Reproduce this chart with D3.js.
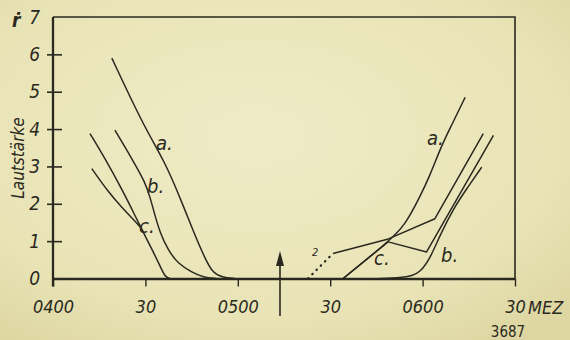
<!DOCTYPE html>
<html>
<head>
<meta charset="utf-8">
<script src="https://cdn.jsdelivr.net/npm/d3@7"></script>
<style>
  html, body { margin: 0; padding: 0; background: #ebe6ba; }
  svg { display: block; }
</style>
</head>
<body>
<svg id="chart" width="570" height="340"></svg>
<script>
// minutes after 04:00 MEZ, Lautstärke (0-7)
const xTicks = [0, 30, 60, 90, 120, 150];
const xTickLabels = ['0400', '30', '0500', '30', '0600', '30'];
const yTicks = [0, 1, 2, 3, 4, 5, 6, 7];

// fade-out (left group)
const aEarly = [[19.1, 5.9], [29.3, 4.1], [36.4, 3.12], [41.8, 2.05], [46.1, 1.15], [49.4, 0.53], [52, 0.13], [55.2, 0.03], [59, 0]];
const bEarly = [[20.1, 3.97], [25.6, 3.21], [29.9, 2.58], [31.5, 2.18], [33.1, 1.69], [34.7, 1.24], [37.4, 0.75], [40.7, 0.39], [45, 0.17], [48.8, 0.03], [53, 0]];
const cEarly = [[12, 3.88], [16.9, 3.21], [22.3, 2.4], [26.6, 1.69], [29.3, 1.24], [32, 0.8], [34.7, 0.35], [36.4, 0.03], [38, 0]];
const cEarlyBranch = [[12.6, 2.94], [18, 2.31], [22.3, 1.91], [25.6, 1.62], [28.5, 1.37], [29.3, 1.24]];

// return (right group)
const aLate = [[94.2, 0], [108.8, 0.98], [114.3, 1.42], [119.2, 2.2], [122.4, 2.76], [126.2, 3.57], [129.4, 4.1], [133.8, 4.85]];
const bLate = [[106, 0], [113, 0.02], [116.6, 0.07], [119.2, 0.17], [122.4, 0.53], [125.6, 1.15], [130, 1.87], [134.3, 2.4], [139.2, 2.98]];
const cLate = [[94.2, 0], [108.8, 0.98], [121.3, 0.71], [143, 3.83]];
const line2Dotted = [[82.8, 0], [90.9, 0.67]];
const line2 = [[90.9, 0.67], [108.9, 1.06], [124, 1.6], [139.7, 3.88]];

const INK = '#2a2920';
const NUM_FONT = '"Liberation Sans Narrow", "DejaVu Sans Condensed", "DejaVu Sans", sans-serif';

const svg = d3.select('#chart');

// paper
const grad = svg.append('defs').append('radialGradient')
  .attr('id', 'paper')
  .attr('cx', '45%').attr('cy', '40%').attr('r', '75%');
grad.append('stop').attr('offset', '0%').attr('stop-color', '#efebc6');
grad.append('stop').attr('offset', '70%').attr('stop-color', '#e9e4b6');
grad.append('stop').attr('offset', '100%').attr('stop-color', '#ddd6a2');
svg.append('rect')
  .attr('width', 570)
  .attr('height', 340)
  .attr('fill', 'url(#paper)');

const x = d3.scaleLinear().domain([0, 150]).range([53, 515]);
const y = d3.scaleLinear().domain([0, 7]).range([278.5, 17]);

// frame: top and right
svg.append('path')
  .attr('d', `M${x(0)},${y(7)}H${x(150)}V${y(0)}`)
  .attr('fill', 'none')
  .attr('stroke', INK)
  .attr('stroke-width', 1.6);

// y axis
const yAxisEl = svg.append('g')
  .attr('transform', `translate(${x(0)},0)`)
  .call(d3.axisLeft(y)
    .tickValues(yTicks)
    .tickFormat(d3.format('d'))
    .tickSize(6)
    .tickPadding(7)
    .tickSizeOuter(0));
yAxisEl.select('.domain').remove();
yAxisEl.selectAll('.tick line')
  .attr('x1', 9)
  .attr('stroke', INK)
  .attr('stroke-width', 1.6);
yAxisEl.selectAll('.tick').filter(d => d === 0 || d === 7).select('line').remove();
yAxisEl.selectAll('text')
  .style('font-family', NUM_FONT)
  .style('font-style', 'italic')
  .style('font-size', '19px')
  .attr('fill', INK);
svg.append('line')
  .attr('x1', x(0)).attr('x2', x(0))
  .attr('y1', y(7)).attr('y2', y(0) + 8)
  .attr('stroke', INK)
  .attr('stroke-width', 2.3);

// x axis
const xAxisEl = svg.append('g')
  .attr('transform', `translate(0,${y(0)})`)
  .call(d3.axisBottom(x)
    .tickValues(xTicks)
    .tickSize(8)
    .tickSizeOuter(0)
    .tickPadding(14)
    .tickFormat((d, i) => xTickLabels[i]));
xAxisEl.select('.domain')
  .attr('stroke', INK)
  .attr('stroke-width', 2.6);
xAxisEl.selectAll('.tick line')
  .attr('stroke', INK)
  .attr('stroke-width', 1.4);
xAxisEl.selectAll('text')
  .style('font-family', NUM_FONT)
  .style('font-style', 'italic')
  .style('font-size', '18px')
  .attr('fill', INK);

svg.append('text')
  .attr('x', x(150) + 13)
  .attr('y', y(0) + 35)
  .text('MEZ')
  .style('font-family', NUM_FONT)
  .style('font-style', 'italic')
  .style('font-size', '18px')
  .attr('fill', INK);

svg.append('text')
  .attr('x', x(150) - 7)
  .attr('y', 337)
  .attr('text-anchor', 'middle')
  .text('3687')
  .style('font-family', NUM_FONT)
  .style('font-size', '15px')
  .attr('fill', INK);

// y title
svg.append('text')
  .attr('transform', 'translate(24,158) rotate(-90)')
  .attr('text-anchor', 'middle')
  .text('Lautstärke')
  .style('font-family', NUM_FONT)
  .style('font-style', 'italic')
  .style('font-size', '17px')
  .attr('fill', INK);

svg.append('text')
  .attr('x', 12)
  .attr('y', 27)
  .text('ṙ')
  .style('font-family', NUM_FONT)
  .style('font-style', 'italic')
  .style('font-weight', 'bold')
  .style('font-size', '19px')
  .attr('fill', INK);

// curves
const smooth = d3.line()
  .x(d => x(d[0]))
  .y(d => y(d[1]))
  .curve(d3.curveBasis);
const straight = d3.line()
  .x(d => x(d[0]))
  .y(d => y(d[1]));

const curves = svg.append('g')
  .attr('fill', 'none')
  .attr('stroke', INK)
  .attr('stroke-width', 1.5)
  .attr('stroke-linejoin', 'round');

[aEarly, bEarly, cEarly, cEarlyBranch, aLate, bLate].forEach(s => {
  curves.append('path').attr('d', smooth(s));
});
[cLate, line2].forEach(s => {
  curves.append('path').attr('d', straight(s));
});
curves.append('path')
  .attr('d', straight(line2Dotted))
  .attr('stroke-width', 2.2)
  .attr('stroke-linecap', 'round')
  .attr('stroke-dasharray', '0.5,5.5');

// curve labels
const labelText = (t, px, py, size) => svg.append('text')
  .attr('x', px)
  .attr('y', py)
  .text(t)
  .style('font-family', NUM_FONT)
  .style('font-style', 'italic')
  .style('font-size', size + 'px')
  .attr('fill', INK);

labelText('a.', 156, 150, 20);
labelText('b.', 147, 193, 20);
labelText('c.', 139, 233, 20);
labelText('a.', 427, 145, 20);
labelText('c.', 374, 265, 20);
labelText('b.', 441, 262, 20);
labelText('2', 312, 256, 11);

// arrow at sunrise
svg.append('line')
  .attr('x1', 280).attr('x2', 280)
  .attr('y1', 262).attr('y2', 316)
  .attr('stroke', INK)
  .attr('stroke-width', 1.6);
svg.append('path')
  .attr('d', 'M280,251L276,266L284,266Z')
  .attr('fill', INK);
</script>
</body>
</html>
